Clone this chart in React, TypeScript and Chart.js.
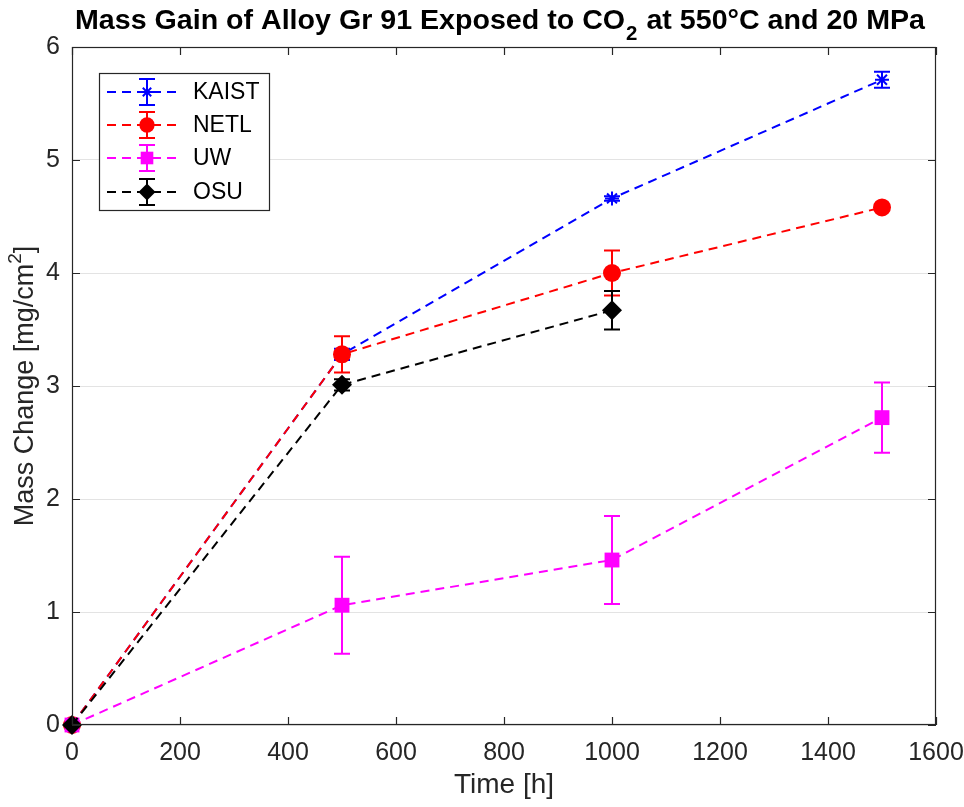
import React, { useEffect, useRef } from "react";
import { Chart, registerables } from "chart.js";

Chart.register(...registerables);

// ---- data ----
const times = [0, 500, 1000, 1500];
const seriesNames = ["KAIST", "NETL", "UW", "OSU"];
const kaistValues = [0, 3.28, 4.66, 5.71];
const kaistErrors = [0, 0.05, 0.02, 0.07];
const netlValues = [0, 3.28, 4.0, 4.58];
const netlErrors = [0, 0.16, 0.2, 0.02];
const uwValues = [0, 1.06, 1.46, 2.72];
const uwErrors = [0, 0.43, 0.39, 0.31];
const osuValues = [0, 3.01, 3.67];
const osuErrors = [0, 0.05, 0.17];
const xTickValues = [0, 200, 400, 600, 800, 1000, 1200, 1400, 1600];
const yTickValues = [0, 1, 2, 3, 4, 5, 6];
const titleMain = "Mass Gain of Alloy Gr 91 Exposed to CO";
const titleSub = "2";
const titleRest = " at 550°C and 20 MPa";
const xAxisTitle = "Time [h]";
const yAxisTitleMain = "Mass Change [mg/cm";
const yAxisTitleSup = "2";
const yAxisTitleEnd = "]";

const colors = ["#0000ff", "#ff0000", "#ff00ff", "#000000"];
const pointStyles = ["star", "circle", "rect", "rectRot"];
const pointRadii = [7, 9, 10.5, 10];
const valueSets = [kaistValues, netlValues, uwValues, osuValues];
const errorSets = [kaistErrors, netlErrors, uwErrors, osuErrors];

const FONT = '"Liberation Sans", Arial, sans-serif';

function drawMarker(ctx: CanvasRenderingContext2D, style: string, x: number, y: number, r: number, color: string) {
  ctx.save();
  ctx.fillStyle = color;
  ctx.strokeStyle = color;
  ctx.lineWidth = 2;
  ctx.setLineDash([]);
  ctx.beginPath();
  if (style === "circle") {
    ctx.arc(x, y, r, 0, Math.PI * 2);
    ctx.fill();
  } else if (style === "rect") {
    const s = r * Math.SQRT1_2;
    ctx.rect(x - s, y - s, 2 * s, 2 * s);
    ctx.fill();
  } else if (style === "rectRot") {
    ctx.moveTo(x, y - r);
    ctx.lineTo(x + r, y);
    ctx.lineTo(x, y + r);
    ctx.lineTo(x - r, y);
    ctx.closePath();
    ctx.fill();
  } else {
    for (let k = 0; k < 4; k++) {
      const a = (k * Math.PI) / 4;
      ctx.moveTo(x - r * Math.cos(a), y - r * Math.sin(a));
      ctx.lineTo(x + r * Math.cos(a), y + r * Math.sin(a));
    }
    ctx.stroke();
  }
  ctx.restore();
}

function drawErrorBar(ctx: CanvasRenderingContext2D, x: number, yTop: number, yBot: number, color: string) {
  const cap = 8;
  ctx.save();
  ctx.strokeStyle = color;
  ctx.lineWidth = 2;
  ctx.setLineDash([]);
  ctx.beginPath();
  ctx.moveTo(x, yTop);
  ctx.lineTo(x, yBot);
  ctx.moveTo(x - cap, yTop);
  ctx.lineTo(x + cap, yTop);
  ctx.moveTo(x - cap, yBot);
  ctx.lineTo(x + cap, yBot);
  ctx.stroke();
  ctx.restore();
}

const decorPlugin = {
  id: "decor",
  beforeDatasetDraw(chart: any, args: any) {
    const i = args.index;
    const ctx = chart.ctx as CanvasRenderingContext2D;
    const xs = chart.scales.x;
    const ys = chart.scales.y;
    const vals = valueSets[i];
    const errs = errorSets[i];
    for (let k = 0; k < vals.length; k++) {
      if (!errs[k]) continue;
      const px = xs.getPixelForValue(times[k]);
      drawErrorBar(ctx, px, ys.getPixelForValue(vals[k] + errs[k]), ys.getPixelForValue(vals[k] - errs[k]), colors[i]);
    }
  },
  afterDraw(chart: any) {
    const ctx = chart.ctx as CanvasRenderingContext2D;
    const a = chart.chartArea;
    const xs = chart.scales.x;
    const ys = chart.scales.y;
    ctx.save();
    // box
    ctx.strokeStyle = "#262626";
    ctx.lineWidth = 1.2;
    ctx.setLineDash([]);
    ctx.strokeRect(a.left + 0.5, a.top + 0.5, a.right - a.left - 1, a.bottom - a.top - 1);
    // inward ticks
    const tl = 8;
    ctx.beginPath();
    xTickValues.forEach((v) => {
      const px = Math.round(xs.getPixelForValue(v)) + 0.5;
      ctx.moveTo(px, a.bottom);
      ctx.lineTo(px, a.bottom - tl);
      ctx.moveTo(px, a.top);
      ctx.lineTo(px, a.top + tl);
    });
    yTickValues.forEach((v) => {
      const py = Math.round(ys.getPixelForValue(v)) + 0.5;
      ctx.moveTo(a.left, py);
      ctx.lineTo(a.left + tl, py);
      ctx.moveTo(a.right, py);
      ctx.lineTo(a.right - tl, py);
    });
    ctx.stroke();

    // title
    ctx.fillStyle = "#000";
    ctx.textBaseline = "alphabetic";
    ctx.font = `bold 28px ${FONT}`;
    const w1 = ctx.measureText(titleMain).width;
    const w3 = ctx.measureText(titleRest).width;
    ctx.font = `bold 20px ${FONT}`;
    const w2 = ctx.measureText(titleSub).width;
    const total = w1 + w2 + w3 + 2;
    const target = 850;
    const sx = target / total;
    const cx = 500;
    ctx.save();
    ctx.translate(cx - target / 2, 0);
    ctx.scale(sx, 1);
    ctx.textAlign = "left";
    ctx.font = `bold 28px ${FONT}`;
    ctx.fillText(titleMain, 0, 29);
    ctx.font = `bold 20px ${FONT}`;
    ctx.fillText(titleSub, w1 + 1, 40);
    ctx.font = `bold 28px ${FONT}`;
    ctx.fillText(titleRest, w1 + w2 + 2, 29);
    ctx.restore();

    // x axis title
    ctx.fillStyle = "#262626";
    ctx.font = `28px ${FONT}`;
    ctx.textAlign = "center";
    ctx.textBaseline = "alphabetic";
    ctx.fillText(xAxisTitle, (a.left + a.right) / 2, 793);

    // y axis title
    ctx.save();
    ctx.translate(33, (a.top + a.bottom) / 2);
    ctx.rotate(-Math.PI / 2);
    ctx.font = `27px ${FONT}`;
    const m1 = ctx.measureText(yAxisTitleMain).width;
    const m3 = ctx.measureText(yAxisTitleEnd).width;
    ctx.font = `19px ${FONT}`;
    const m2 = ctx.measureText(yAxisTitleSup).width;
    const tw = m1 + m2 + m3;
    ctx.textAlign = "left";
    ctx.font = `27px ${FONT}`;
    ctx.fillText(yAxisTitleMain, -tw / 2, 0);
    ctx.font = `19px ${FONT}`;
    ctx.fillText(yAxisTitleSup, -tw / 2 + m1, -12);
    ctx.font = `27px ${FONT}`;
    ctx.fillText(yAxisTitleEnd, -tw / 2 + m1 + m2, 0);
    ctx.restore();

    // legend
    const lx = 99, ly = 73, lw = 170, lh = 137;
    ctx.fillStyle = "#fff";
    ctx.fillRect(lx, ly, lw, lh);
    ctx.strokeStyle = "#262626";
    ctx.lineWidth = 1.2;
    ctx.strokeRect(lx + 0.5, ly + 0.5, lw, lh);
    const rows = [92, 125, 158, 192];
    seriesNames.forEach((name, i) => {
      const y = rows[i];
      ctx.save();
      ctx.strokeStyle = colors[i];
      ctx.lineWidth = 2;
      ctx.setLineDash([9, 6]);
      ctx.beginPath();
      ctx.moveTo(107, y);
      ctx.lineTo(177, y);
      ctx.stroke();
      ctx.restore();
      drawErrorBar(ctx, 147, y - 13, y + 13, colors[i]);
      drawMarker(ctx, pointStyles[i], 147, y, pointRadii[i] * 0.85, colors[i]);
      ctx.fillStyle = "#000";
      ctx.font = `23px ${FONT}`;
      ctx.textAlign = "left";
      ctx.textBaseline = "middle";
      ctx.fillText(name, 193, y + 1);
    });
    ctx.restore();
  },
};

export default function App() {
  const canvasRef = useRef<HTMLCanvasElement | null>(null);

  useEffect(() => {
    document.body.style.margin = "0";
    const canvas = canvasRef.current;
    if (!canvas) return;
    const datasets = seriesNames.map((name, i) => ({
      label: name,
      data: valueSets[i].map((v, k) => ({ x: times[k], y: v })),
      order: seriesNames.length - 1 - i,
      borderColor: colors[i],
      backgroundColor: colors[i],
      borderWidth: 2,
      borderDash: [9, 6],
      pointStyle: pointStyles[i] as any,
      pointRadius: pointRadii[i],
      pointBorderWidth: i === 0 ? 2 : 0,
      pointBackgroundColor: colors[i],
      pointBorderColor: colors[i],
      fill: false,
      tension: 0,
      clip: false as any,
    }));
    const chart = new Chart(canvas, {
      type: "line",
      data: { datasets },
      options: {
        animation: false,
        responsive: false,
        devicePixelRatio: 1,
        layout: { padding: { top: 47, right: 28, left: 0, bottom: 0 } },
        plugins: {
          legend: { display: false },
          title: { display: false },
          tooltip: { enabled: false },
        },
        scales: {
          x: {
            type: "linear",
            min: 0,
            max: 1600,
            afterFit: (s: any) => {
              s.height = 82;
              s.paddingLeft = 0;
              s.paddingRight = 0;
            },
            afterBuildTicks: (s: any) => {
              s.ticks = xTickValues.map((v) => ({ value: v }));
            },
            grid: { display: false, drawTicks: false },
            border: { display: false },
            ticks: {
              padding: 13,
              color: "#262626",
              font: { family: FONT, size: 25 },
              maxRotation: 0,
              autoSkip: false,
              callback: (v: any) => String(v),
            },
          },
          y: {
            type: "linear",
            min: 0,
            max: 6,
            afterFit: (s: any) => {
              s.width = 72;
              s.paddingTop = 0;
              s.paddingBottom = 0;
            },
            afterBuildTicks: (s: any) => {
              s.ticks = yTickValues.map((v) => ({ value: v }));
            },
            grid: { color: "#e3e3e3", lineWidth: 1, drawTicks: false },
            border: { display: false },
            ticks: {
              padding: 12,
              color: "#262626",
              font: { family: FONT, size: 25 },
              autoSkip: false,
              callback: (v: any) => String(v),
            },
          },
        },
      },
      plugins: [decorPlugin],
    });
    return () => chart.destroy();
  }, []);

  return (
    <div style={{ position: "absolute", left: 0, top: 0, width: 964, height: 807, background: "#fff" }}>
      <canvas ref={canvasRef} width={964} height={807} style={{ display: "block" }} />
    </div>
  );
}
